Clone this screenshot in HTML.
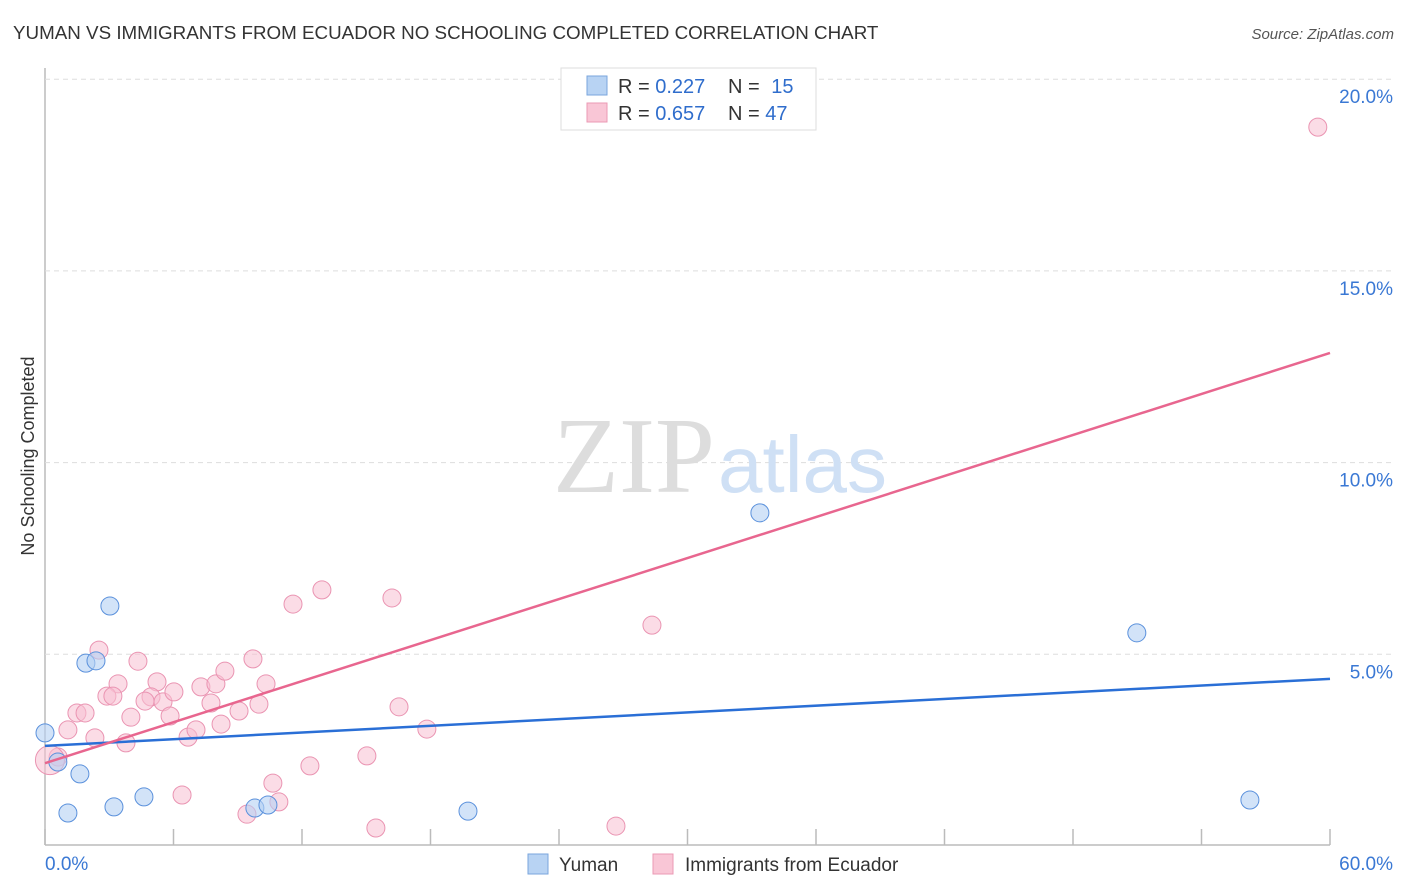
<!DOCTYPE html>
<html><head><meta charset="utf-8"><style>
body{margin:0;background:#fff;font-family:"Liberation Sans",sans-serif;}
#wrap{position:relative;width:1406px;height:892px;overflow:hidden;}
</style></head><body>
<div id="wrap">
<svg id="svg" width="1406" height="892" xmlns="http://www.w3.org/2000/svg">
<text x="13" y="39" font-size="18.8" fill="#333">YUMAN VS IMMIGRANTS FROM ECUADOR NO SCHOOLING COMPLETED CORRELATION CHART</text>
<text x="1394" y="39" font-size="15" fill="#555" font-style="italic" text-anchor="end">Source: ZipAtlas.com</text>
<text x="34" y="456" font-size="18" fill="#333" text-anchor="middle" transform="rotate(-90 34 456)">No Schooling Completed</text>
<g id="grid"></g>
<text x="553" y="492" font-size="108" fill="#ddd" font-family="Liberation Serif,serif">ZIP</text>
<text x="718" y="492" font-size="80" fill="#cfe0f5">atlas</text>
<g id="marks"></g>
<g>
<rect x="561" y="68" width="255" height="62" fill="#fff" stroke="#ddd"/>
<rect x="587" y="76" width="20" height="19" fill="#b8d3f3" stroke="#7aa6dd"/>
<rect x="587" y="103" width="20" height="19" fill="#f9c6d6" stroke="#eb9ab4"/>
<text x="618" y="93" font-size="20" fill="#333">R = <tspan fill="#2f6dcc">0.227</tspan></text>
<text x="728" y="93" font-size="20" fill="#333">N = <tspan fill="#2f6dcc" dx="6">15</tspan></text>
<text x="618" y="120" font-size="20" fill="#333">R = <tspan fill="#2f6dcc">0.657</tspan></text>
<text x="728" y="120" font-size="20" fill="#333">N = <tspan fill="#2f6dcc">47</tspan></text>
</g>
<g>
<rect x="528" y="854" width="20" height="20" fill="#b8d3f3" stroke="#7aa6dd"/>
<text x="559" y="871" font-size="19" fill="#333">Yuman</text>
<rect x="653" y="854" width="20" height="20" fill="#f9c6d6" stroke="#eb9ab4"/>
<text x="685" y="871" font-size="19" fill="#333">Immigrants from Ecuador</text>
</g>
</svg>
</div>
<script>
const yTicks=[5,10,15,20];
const yTickLabels=["5.0%","10.0%","15.0%","20.0%"];
const xTicks=[0,6,12,18,24,30,36,42,48,54,60];
const yumanX=[0,0.6,1.91,2.38,3.03,1.63,1.07,3.22,4.62,9.8,10.41,19.75,33.38,50.98,56.26];
const yumanY=[2.95,2.19,4.77,4.83,6.26,1.88,0.86,1.02,1.28,0.99,1.07,0.91,8.69,5.56,1.2];
const ecuX=[2.52,4.34,3.41,2.89,3.17,1.49,1.87,1.07,2.33,4.01,5.23,4.95,4.67,5.51,6.02,5.84,3.78,6.68,7.05,7.28,7.98,8.4,7.75,8.22,9.06,9.71,10.32,9.99,11.58,12.93,16.2,16.53,17.83,15.03,12.37,10.64,10.92,9.43,6.4,15.45,0.61,0.23,26.66,28.34,59.43];
const ecuY=[5.11,4.82,4.23,3.91,3.91,3.47,3.47,3.03,2.82,3.36,4.28,3.89,3.78,3.76,4.02,3.39,2.69,2.84,3.03,4.15,4.23,4.56,3.73,3.18,3.52,4.88,4.23,3.7,6.31,6.68,6.47,3.63,3.05,2.35,2.09,1.64,1.15,0.83,1.33,0.47,2.32,2.24,0.52,5.76,18.75];
const yumanTrend=[2.61,4.36];
const ecuTrend=[2.16,12.86];
const xs=v=>45+v*(1285/60);
const ys=v=>846-v*38.34;
const NS="http://www.w3.org/2000/svg";
const grid=document.getElementById('grid'),marks=document.getElementById('marks');
function mk(tag,a,p){const e=document.createElementNS(NS,tag);for(const k in a)e.setAttribute(k,a[k]);p.appendChild(e);return e;}
let ax=mk('line',{x1:45,y1:68,x2:45,y2:845,stroke:'#bbb','stroke-width':1.5},grid);


let bx=mk('line',{x1:45,y1:845,x2:1330,y2:845,stroke:'#bbb','stroke-width':1.5},grid);


yTicks.forEach((t,i)=>{
 let g=mk('line',{x1:45,x2:1393,y1:ys(t),y2:ys(t),stroke:'#ddd','stroke-dasharray':'5,4'},grid);
 
 
 let l=mk('text',{x:1393,y:ys(t)+24,'font-size':19,fill:'#3a78d4','text-anchor':'end'},grid);l.textContent=yTickLabels[i];
 
 
});
xTicks.forEach(t=>{
 let l=mk('line',{x1:xs(t),x2:xs(t),y1:829,y2:845,stroke:'#bbb','stroke-width':1.5},grid);
 
 
});
let x0=mk('text',{x:45,y:870,'font-size':19,fill:'#3a78d4'},grid);x0.textContent='0.0%';


let x1=mk('text',{x:1393,y:870,'font-size':19,fill:'#3a78d4','text-anchor':'end'},grid);x1.textContent='60.0%';


ecuX.forEach((v,i)=>{
 let c=mk('circle',{cx:xs(v),cy:ys(ecuY[i]),r:i==41?14.5:9,fill:'#f7bfd2','fill-opacity':0.55,stroke:'#ea94b2','stroke-width':1},marks);
 
 
});
yumanX.forEach((v,i)=>{
 let c=mk('circle',{cx:xs(v),cy:ys(yumanY[i]),r:9,fill:'#b4d0f3','fill-opacity':0.6,stroke:'#5b91dc','stroke-width':1},marks);
 
 
});
let t1=mk('line',{x1:xs(0),y1:ys(yumanTrend[0]),x2:xs(60),y2:ys(yumanTrend[1]),stroke:'#2a6fd6','stroke-width':2.5},marks);


let t2=mk('line',{x1:xs(0),y1:ys(ecuTrend[0]),x2:xs(60),y2:ys(ecuTrend[1]),stroke:'#e8668f','stroke-width':2.5},marks);


</script>
</body></html>
